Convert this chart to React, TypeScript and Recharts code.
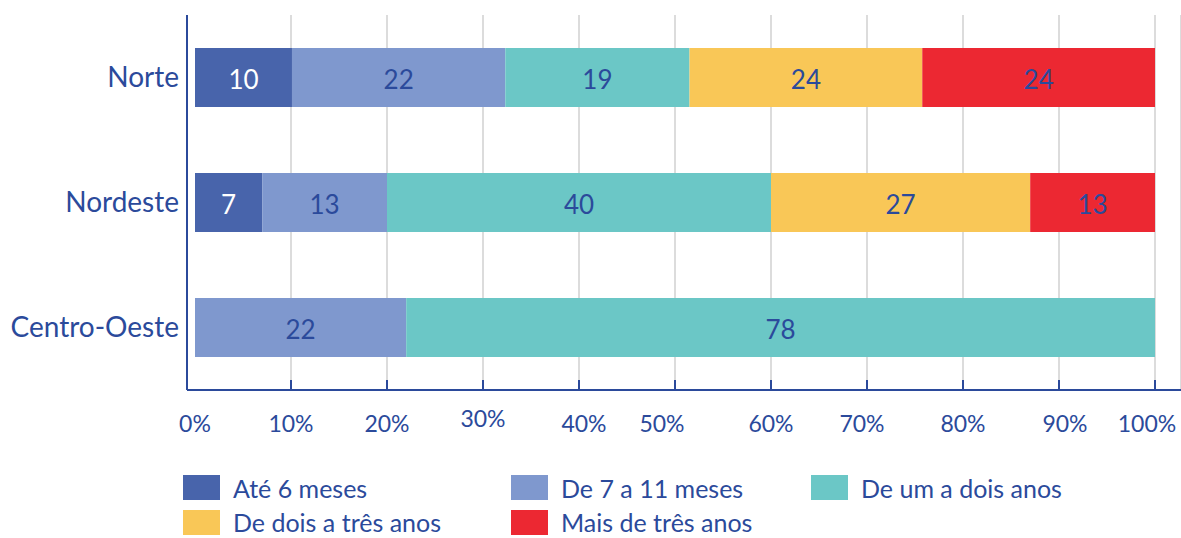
import { Bar, BarChart, CartesianGrid, LabelList, XAxis, YAxis } from "recharts";

const regions = ["Norte", "Nordeste", "Centro-Oeste"];
const ate6Meses = [10, 7, 0];
const de7a11Meses = [22, 13, 22];
const deUmADoisAnos = [19, 40, 78];
const deDoisATresAnos = [24, 27, 0];
const maisDeTresAnos = [24, 13, 0];
const percentTicks = [0, 0.1, 0.2, 0.3, 0.4, 0.5, 0.6, 0.7, 0.8, 0.9, 1];
const gridTicks = percentTicks.filter((t) => t > 0);

const TEXT = "#2b4a9b";
const FONT = "Lato, 'Open Sans', sans-serif";

const SERIES = [
  { key: "ate6", name: "Até 6 meses", values: ate6Meses, color: "#4864ab", labelColor: "#ffffff" },
  { key: "de7a11", name: "De 7 a 11 meses", values: de7a11Meses, color: "#7f98ce", labelColor: TEXT },
  { key: "umDois", name: "De um a dois anos", values: deUmADoisAnos, color: "#6bc7c6", labelColor: TEXT },
  { key: "doisTres", name: "De dois a três anos", values: deDoisATresAnos, color: "#f9c757", labelColor: TEXT },
  { key: "maisTres", name: "Mais de três anos", values: maisDeTresAnos, color: "#ec2832", labelColor: TEXT },
];

const data = regions.map((region, i) => {
  const row: Record<string, string | number> = { region };
  SERIES.forEach((s) => (row[s.key] = s.values[i]));
  return row;
});

// the source placed some of the tick labels by hand, slightly off the ticks
const TICK_NUDGE: Record<string, { dx: number; dy: number }> = {
  "0.3": { dx: 0, dy: -5 },
  "0.4": { dx: 5, dy: 0 },
  "0.5": { dx: -13, dy: 0 },
  "0.7": { dx: -5, dy: 0 },
  "0.9": { dx: 6, dy: 0 },
  "1": { dx: -8, dy: 0 },
};

function PercentTick({ x, y, payload }: any) {
  const v = payload.value as number;
  const nudge = TICK_NUDGE[String(v)] ?? { dx: 0, dy: 0 };
  return (
    <g>
      {v > 0 && <line x1={x} x2={x} y1={y} y2={y - 10} stroke={TEXT} strokeWidth={2} />}
      <text
        x={x + nudge.dx}
        y={y + 33 + nudge.dy}
        textAnchor="middle"
        dominantBaseline="central"
        fill={TEXT}
        fontSize={23}
        fontFamily={FONT}
      >
        {`${Math.round(v * 100)}%`}
      </text>
    </g>
  );
}

function makeLabel(color: string) {
  return function SegmentLabel({ x, y, width, height, value }: any) {
    if (!value) return null;
    return (
      <text
        x={x + width / 2}
        y={y + height / 2 + 1}
        textAnchor="middle"
        dominantBaseline="central"
        fill={color}
        fontSize={26}
        fontFamily={FONT}
      >
        {value}
      </text>
    );
  };
}

function ChartLegend() {
  return (
    <div
      style={{
        position: "absolute",
        left: 183,
        top: 469,
        display: "grid",
        gridTemplateColumns: "328px 300px 260px",
        gridTemplateRows: "37px 24px",
        rowGap: 4,
        fontFamily: FONT,
        fontSize: 25,
        lineHeight: "24px",
        color: TEXT,
      }}
    >
      {SERIES.map((s) => (
        <div key={s.key} style={{ display: "flex", alignItems: "center" }}>
          <span style={{ width: 37, height: 25, background: s.color, marginRight: 13, flex: "none" }} />
          <span style={{ whiteSpace: "nowrap" }}>{s.name}</span>
        </div>
      ))}
    </div>
  );
}

export default function App() {
  return (
    <div
      style={{
        position: "absolute",
        left: 0,
        top: 0,
        width: 1181,
        height: 538,
        background: "#ffffff",
        overflow: "hidden",
      }}
    >
      <BarChart
        width={1181}
        height={538}
        data={data}
        layout="vertical"
        stackOffset="expand"
        barSize={59}
        margin={{ top: 15, right: 0, left: 0, bottom: 98 }}
      >
        <XAxis
          xAxisId="grid"
          type="number"
          domain={[0, 1]}
          ticks={gridTicks}
          padding={{ left: 8, right: 26 }}
          hide
        />
        <CartesianGrid xAxisId="grid" horizontal={false} stroke="#dcdcdc" strokeWidth={2} />
        <XAxis
          type="number"
          domain={[0, 1]}
          ticks={percentTicks}
          interval={0}
          padding={{ left: 8, right: 26 }}
          axisLine={{ stroke: TEXT, strokeWidth: 2 }}
          tickLine={false}
          tickSize={0}
          tickMargin={0}
          tick={<PercentTick />}
          height={50}
        />
        <YAxis
          type="category"
          dataKey="region"
          width={187}
          axisLine={{ stroke: TEXT, strokeWidth: 2 }}
          tickLine={false}
          tick={{ fill: TEXT, fontSize: 28, fontFamily: FONT }}
        />
        {SERIES.map((s) => (
          <Bar key={s.key} dataKey={s.key} name={s.name} stackId="a" fill={s.color} isAnimationActive={false}>
            <LabelList dataKey={s.key} content={makeLabel(s.labelColor)} />
          </Bar>
        ))}
      </BarChart>
      <ChartLegend />
    </div>
  );
}
